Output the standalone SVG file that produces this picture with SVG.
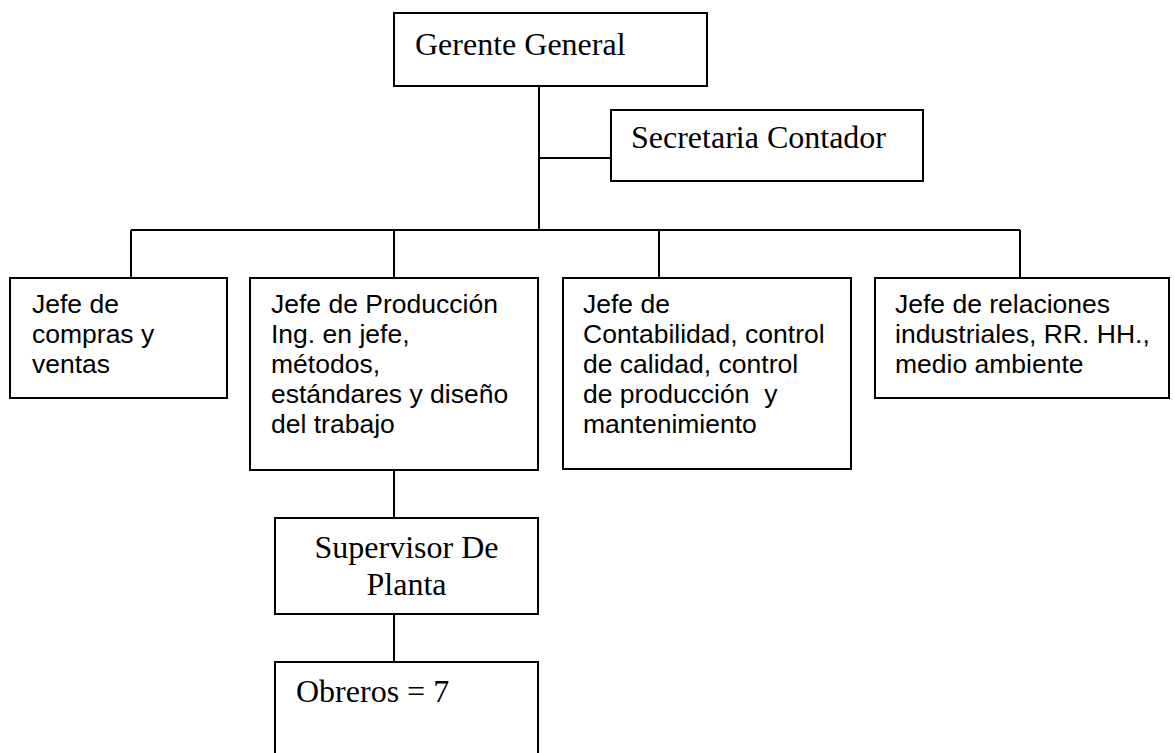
<svg xmlns="http://www.w3.org/2000/svg" width="1175" height="753" viewBox="0 0 1175 753">
<style>
.box{fill:#ffffff;stroke:#000000;stroke-width:2}
.ln{stroke:#000000;stroke-width:2;fill:none}
.tn{font-family:"Liberation Serif","Times New Roman",serif;font-size:32px;fill:#000000}
.ar{font-family:"Liberation Sans",Arial,sans-serif;font-size:26.5px;fill:#000000}
</style>
<rect width="1175" height="753" fill="#ffffff"/>
<g id="connectors">
<path class="ln" d="M539,86 V230"/>
<path class="ln" d="M539,158 H611"/>
<path class="ln" d="M131,230 H1020"/>
<path class="ln" d="M131,230 V278"/>
<path class="ln" d="M394,230 V278"/>
<path class="ln" d="M659,230 V278"/>
<path class="ln" d="M1020,230 V278"/>
<path class="ln" d="M394,470 V518"/>
<path class="ln" d="M394,614 V662"/>
</g>
<g id="gerente">
<rect class="box" x="394" y="13" width="313" height="73"/>
<text class="tn" x="415" y="55">Gerente General</text>
</g>
<g id="secretaria">
<rect class="box" x="611" y="110" width="312" height="71"/>
<text class="tn" x="631" y="148">Secretaria Contador</text>
</g>
<g id="compras">
<rect class="box" x="10" y="278" width="217" height="120"/>
<text class="ar" x="32" y="313">Jefe de</text>
<text class="ar" x="32" y="343">compras y</text>
<text class="ar" x="32" y="373">ventas</text>
</g>
<g id="produccion">
<rect class="box" x="250" y="278" width="288" height="192"/>
<text class="ar" x="271" y="313">Jefe de Producción</text>
<text class="ar" x="271" y="343">Ing. en jefe,</text>
<text class="ar" x="271" y="373">métodos,</text>
<text class="ar" x="271" y="403">estándares y diseño</text>
<text class="ar" x="271" y="433">del trabajo</text>
</g>
<g id="contabilidad">
<rect class="box" x="563" y="278" width="288" height="191"/>
<text class="ar" x="583" y="313">Jefe de</text>
<text class="ar" x="583" y="343">Contabilidad, control</text>
<text class="ar" x="583" y="373">de calidad, control</text>
<text class="ar" x="583" y="403" xml:space="preserve">de producción  y</text>
<text class="ar" x="583" y="433">mantenimiento</text>
</g>
<g id="relaciones">
<rect class="box" x="875" y="278" width="294" height="120"/>
<text class="ar" x="895" y="313">Jefe de relaciones</text>
<text class="ar" x="895" y="343">industriales, RR. HH.,</text>
<text class="ar" x="895" y="373">medio ambiente</text>
</g>
<g id="supervisor">
<rect class="box" x="275" y="518" width="263" height="96"/>
<text class="tn" x="406.5" y="558" text-anchor="middle">Supervisor De</text>
<text class="tn" x="406.5" y="595" text-anchor="middle">Planta</text>
</g>
<g id="obreros">
<rect class="box" x="275" y="662" width="263" height="100"/>
<text class="tn" x="296" y="702">Obreros = 7</text>
</g>
</svg>
